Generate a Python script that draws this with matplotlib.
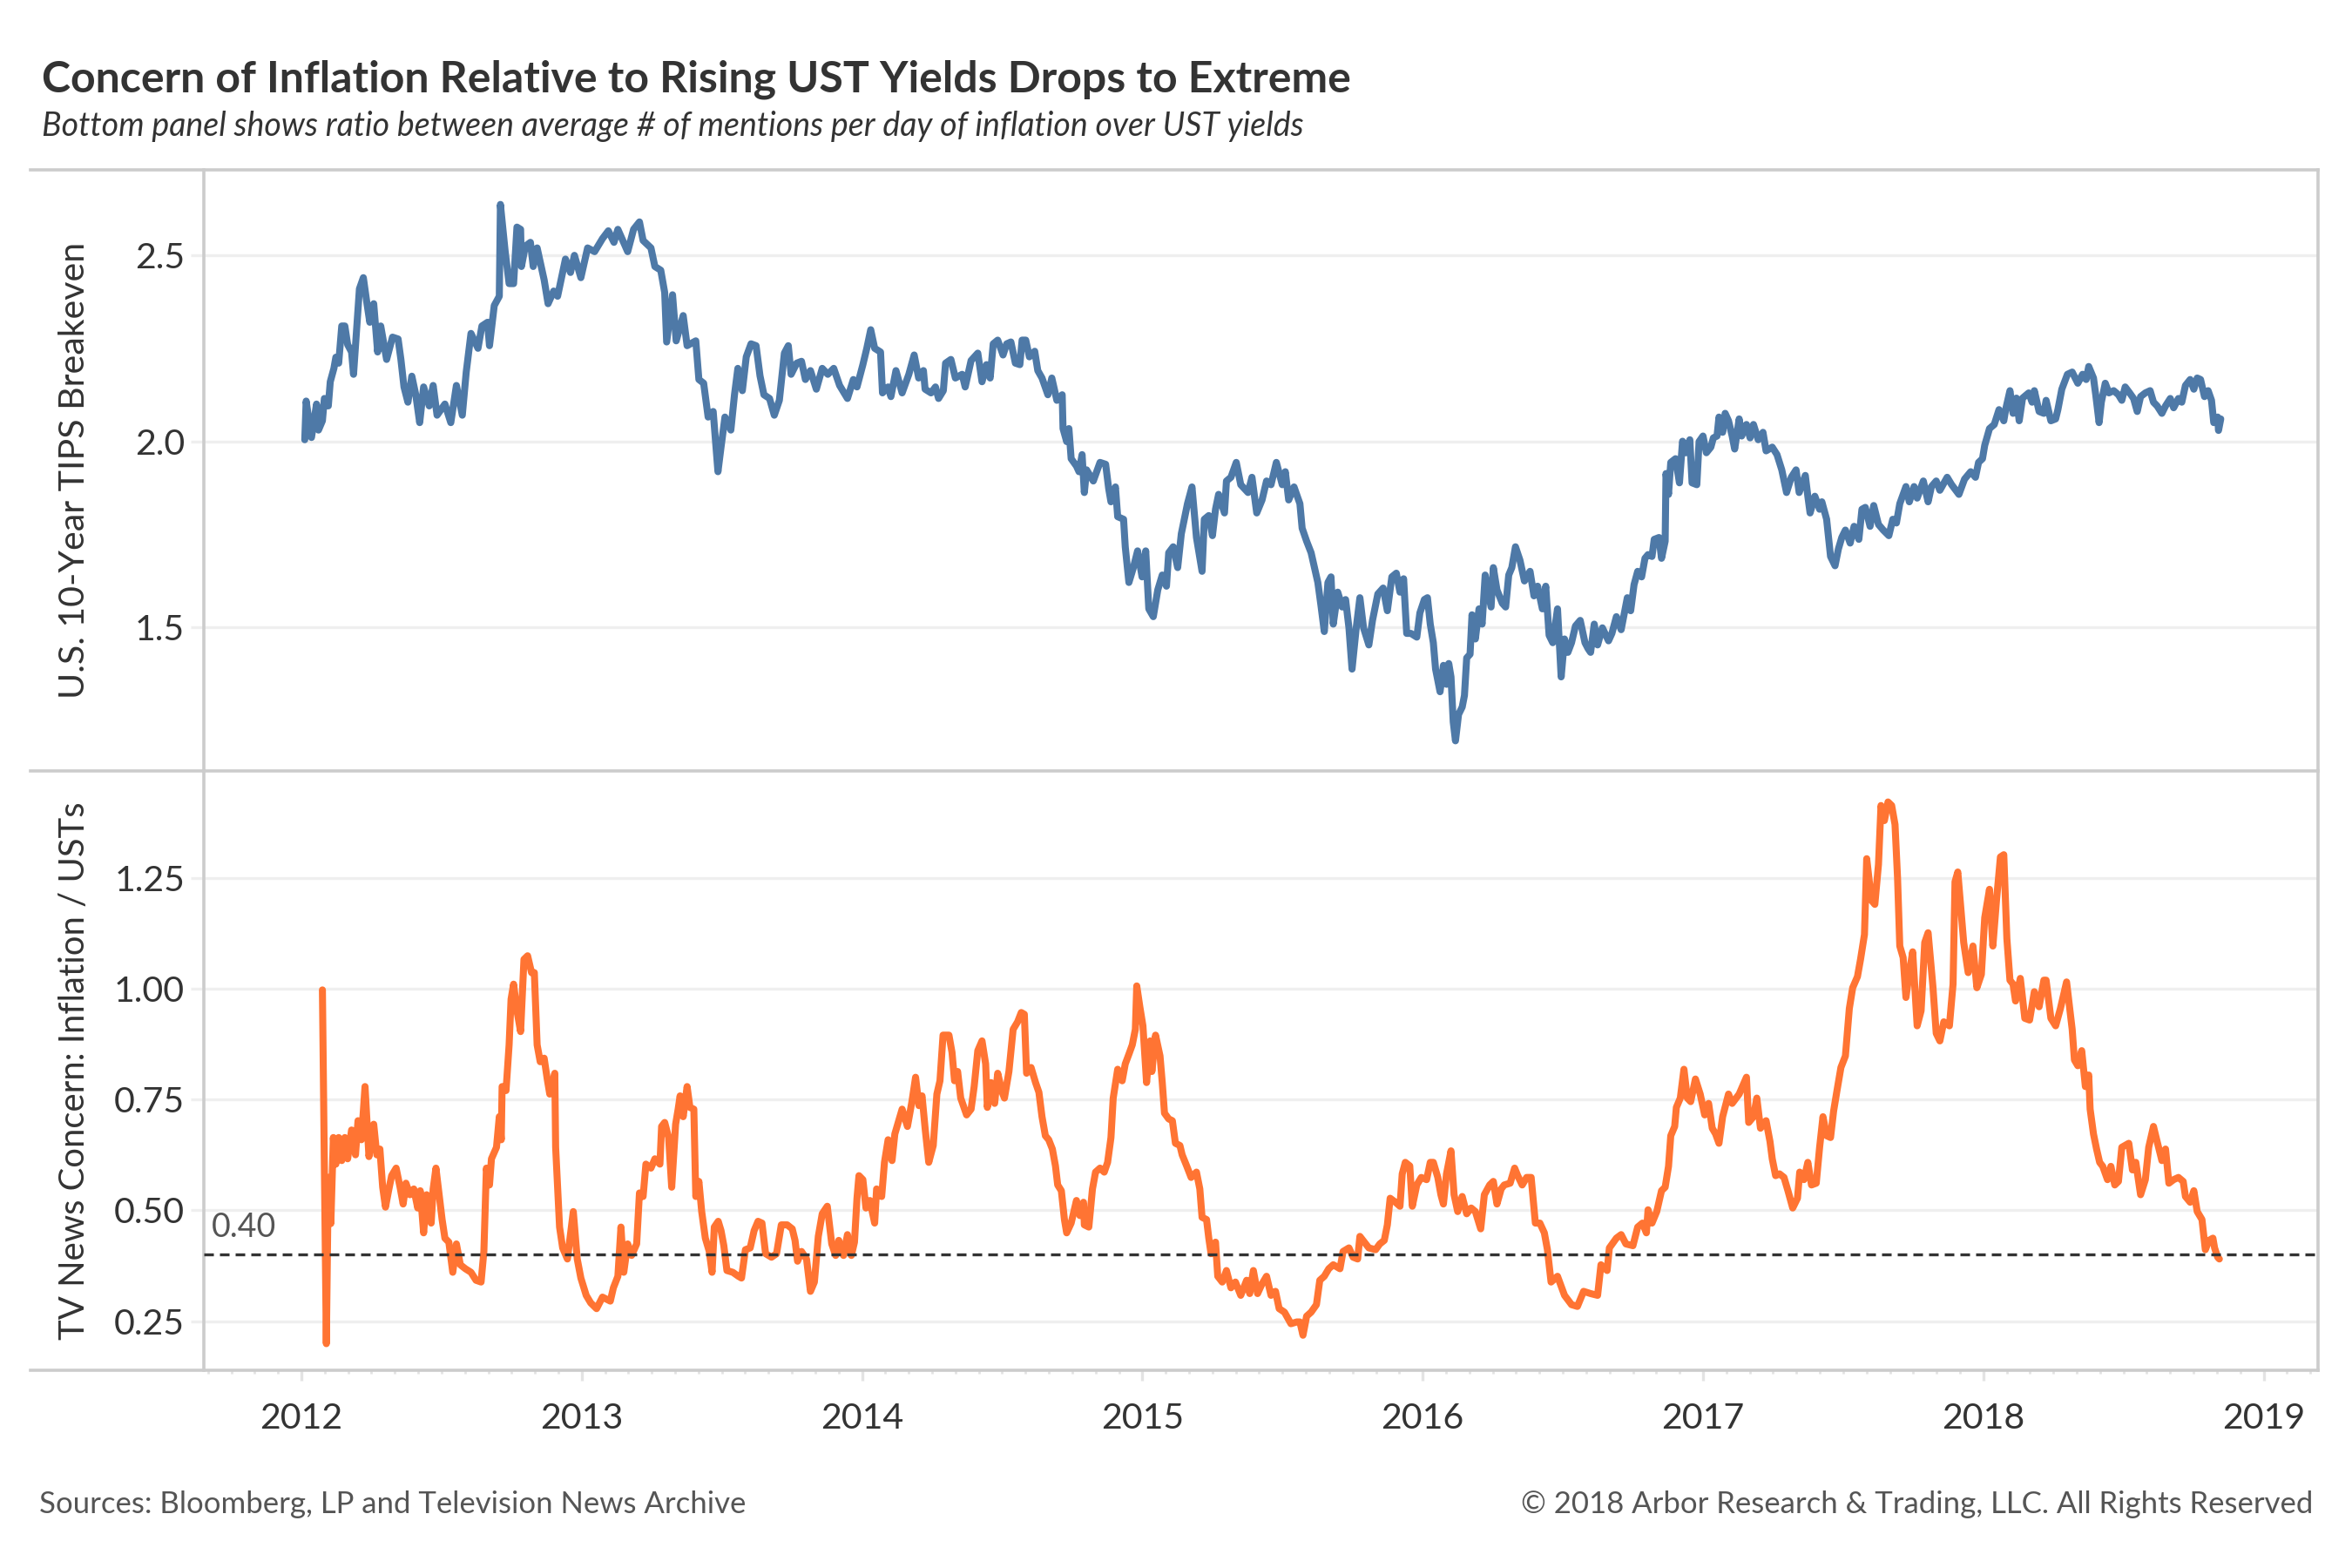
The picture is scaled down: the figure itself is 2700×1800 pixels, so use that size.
import matplotlib
matplotlib.use("Agg")
import matplotlib.pyplot as plt
from matplotlib.lines import Line2D
from matplotlib.ticker import MultipleLocator, FixedLocator

# ---- data (decimal years) ----
tips_year = [
    2012.012, 2012.017, 2012.036, 2012.054, 2012.061, 2012.075, 2012.082, 2012.096, 2012.103, 2012.116,
    2012.123, 2012.133, 2012.144, 2012.155, 2012.165, 2012.179, 2012.186, 2012.197, 2012.207, 2012.221,
    2012.234, 2012.244, 2012.258, 2012.272, 2012.283, 2012.304, 2012.325, 2012.345, 2012.355, 2012.366,
    2012.380, 2012.394, 2012.408, 2012.422, 2012.436, 2012.456, 2012.470, 2012.484, 2012.512, 2012.533,
    2012.553, 2012.574, 2012.588, 2012.605, 2012.630, 2012.644, 2012.664, 2012.671, 2012.688, 2012.706,
    2012.710, 2012.727, 2012.741, 2012.757, 2012.769, 2012.782, 2012.785, 2012.799, 2012.817, 2012.827,
    2012.841, 2012.866, 2012.880, 2012.900, 2012.914, 2012.928, 2012.942, 2012.960, 2012.974, 2012.997,
    2013.021, 2013.046, 2013.074, 2013.095, 2013.115, 2013.129, 2013.164, 2013.185, 2013.206, 2013.219,
    2013.247, 2013.261, 2013.282, 2013.296, 2013.303, 2013.324, 2013.337, 2013.362, 2013.376, 2013.407,
    2013.418, 2013.435, 2013.451, 2013.469, 2013.486, 2013.497, 2013.511, 2013.532, 2013.545, 2013.557,
    2013.573, 2013.587, 2013.604, 2013.622, 2013.636, 2013.650, 2013.670, 2013.687, 2013.705, 2013.723,
    2013.737, 2013.747, 2013.767, 2013.784, 2013.798, 2013.816, 2013.837, 2013.858, 2013.878, 2013.899,
    2013.920, 2013.948, 2013.969, 2013.982, 2014.003, 2014.017, 2014.031, 2014.045, 2014.066, 2014.073,
    2014.093, 2014.103, 2014.121, 2014.143, 2014.167, 2014.186, 2014.202, 2014.219, 2014.225, 2014.246,
    2014.262, 2014.273, 2014.290, 2014.298, 2014.317, 2014.333, 2014.357, 2014.368, 2014.389, 2014.413,
    2014.428, 2014.444, 2014.457, 2014.468, 2014.484, 2014.503, 2014.516, 2014.531, 2014.547, 2014.563,
    2014.571, 2014.584, 2014.597, 2014.616, 2014.627, 2014.642, 2014.663, 2014.677, 2014.695, 2014.714,
    2014.717, 2014.730, 2014.738, 2014.746, 2014.765, 2014.774, 2014.785, 2014.793, 2014.801, 2014.825,
    2014.849, 2014.869, 2014.880, 2014.888, 2014.904, 2014.912, 2014.933, 2014.939, 2014.952, 2014.968,
    2014.983, 2014.999, 2015.012, 2015.023, 2015.039, 2015.055, 2015.071, 2015.086, 2015.094, 2015.110,
    2015.126, 2015.139, 2015.161, 2015.177, 2015.193, 2015.213, 2015.221, 2015.237, 2015.250, 2015.261,
    2015.272, 2015.293, 2015.300, 2015.316, 2015.335, 2015.351, 2015.377, 2015.391, 2015.408, 2015.427,
    2015.443, 2015.459, 2015.478, 2015.499, 2015.510, 2015.522, 2015.541, 2015.562, 2015.570, 2015.586,
    2015.602, 2015.614, 2015.626, 2015.637, 2015.649, 2015.662, 2015.673, 2015.681, 2015.697, 2015.713,
    2015.725, 2015.737, 2015.748, 2015.763, 2015.776, 2015.789, 2015.808, 2015.821, 2015.840, 2015.859,
    2015.874, 2015.890, 2015.906, 2015.919, 2015.932, 2015.943, 2015.958, 2015.979, 2015.990, 2016.006,
    2016.017, 2016.027, 2016.038, 2016.046, 2016.062, 2016.074, 2016.085, 2016.093, 2016.101, 2016.109,
    2016.117, 2016.128, 2016.141, 2016.149, 2016.157, 2016.169, 2016.176, 2016.188, 2016.201, 2016.212,
    2016.223, 2016.244, 2016.252, 2016.265, 2016.284, 2016.296, 2016.307, 2016.318, 2016.331, 2016.347,
    2016.363, 2016.383, 2016.397, 2016.410, 2016.427, 2016.439, 2016.451, 2016.464, 2016.481, 2016.494,
    2016.506, 2016.518, 2016.531, 2016.545, 2016.562, 2016.579, 2016.590, 2016.599, 2016.612, 2016.624,
    2016.641, 2016.663, 2016.675, 2016.691, 2016.708, 2016.730, 2016.742, 2016.754, 2016.767, 2016.781,
    2016.793, 2016.804, 2016.818, 2016.826, 2016.843, 2016.852, 2016.865, 2016.868, 2016.877, 2016.885,
    2016.902, 2016.916, 2016.927, 2016.939, 2016.953, 2016.961, 2016.978, 2016.986, 2017.000, 2017.012,
    2017.028, 2017.037, 2017.050, 2017.057, 2017.070, 2017.079, 2017.091, 2017.104, 2017.113, 2017.129,
    2017.138, 2017.155, 2017.168, 2017.180, 2017.197, 2017.214, 2017.225, 2017.247, 2017.264, 2017.281,
    2017.298, 2017.315, 2017.332, 2017.343, 2017.365, 2017.374, 2017.382, 2017.399, 2017.416, 2017.424,
    2017.441, 2017.455, 2017.471, 2017.483, 2017.495, 2017.508, 2017.525, 2017.539, 2017.556, 2017.567,
    2017.579, 2017.596, 2017.609, 2017.626, 2017.643, 2017.663, 2017.677, 2017.690, 2017.702, 2017.724,
    2017.736, 2017.753, 2017.764, 2017.786, 2017.803, 2017.815, 2017.832, 2017.845, 2017.871, 2017.887,
    2017.913, 2017.933, 2017.955, 2017.972, 2017.983, 2017.997, 2018.005, 2018.022, 2018.039, 2018.056,
    2018.073, 2018.081, 2018.095, 2018.106, 2018.118, 2018.128, 2018.140, 2018.162, 2018.174, 2018.182,
    2018.199, 2018.216, 2018.224, 2018.241, 2018.258, 2018.266, 2018.280, 2018.300, 2018.317, 2018.337,
    2018.354, 2018.367, 2018.376, 2018.393, 2018.401, 2018.413, 2018.421, 2018.435, 2018.448, 2018.465,
    2018.482, 2018.494, 2018.506, 2018.522, 2018.536, 2018.549, 2018.561, 2018.578, 2018.595, 2018.607,
    2018.620, 2018.637, 2018.650, 2018.667, 2018.679, 2018.696, 2018.708, 2018.721, 2018.738, 2018.751,
    2018.763, 2018.775, 2018.789, 2018.802, 2018.814, 2018.822, 2018.836, 2018.839, 2018.847,
]
tips_value = [
    2.004, 2.108, 2.010, 2.100, 2.030, 2.055, 2.115, 2.095, 2.160, 2.196,
    2.226, 2.210, 2.310, 2.310, 2.260, 2.240, 2.180, 2.300, 2.410, 2.440,
    2.370, 2.320, 2.370, 2.240, 2.310, 2.220, 2.280, 2.275, 2.220, 2.146,
    2.105, 2.175, 2.125, 2.050, 2.146, 2.095, 2.150, 2.070, 2.100, 2.050,
    2.150, 2.070, 2.186, 2.290, 2.250, 2.310, 2.320, 2.257, 2.365, 2.390,
    2.637, 2.510, 2.424, 2.424, 2.576, 2.570, 2.470, 2.525, 2.535, 2.470,
    2.520, 2.434, 2.370, 2.404, 2.390, 2.440, 2.490, 2.454, 2.500, 2.440,
    2.520, 2.510, 2.545, 2.566, 2.535, 2.570, 2.510, 2.570, 2.590, 2.540,
    2.520, 2.470, 2.460, 2.400, 2.267, 2.394, 2.270, 2.338, 2.257, 2.270,
    2.166, 2.156, 2.065, 2.080, 1.918, 1.984, 2.065, 2.030, 2.125, 2.196,
    2.136, 2.227, 2.262, 2.257, 2.176, 2.125, 2.115, 2.070, 2.110, 2.237,
    2.257, 2.180, 2.210, 2.215, 2.166, 2.190, 2.140, 2.196, 2.180, 2.196,
    2.150, 2.115, 2.166, 2.146, 2.206, 2.250, 2.300, 2.250, 2.240, 2.130,
    2.146, 2.120, 2.190, 2.130, 2.180, 2.232, 2.170, 2.190, 2.140, 2.130,
    2.146, 2.115, 2.136, 2.210, 2.220, 2.170, 2.180, 2.146, 2.217, 2.237,
    2.160, 2.206, 2.170, 2.262, 2.272, 2.232, 2.262, 2.267, 2.210, 2.206,
    2.272, 2.272, 2.227, 2.242, 2.190, 2.170, 2.125, 2.170, 2.110, 2.125,
    2.034, 1.999, 2.034, 1.953, 1.933, 1.918, 1.964, 1.862, 1.923, 1.893,
    1.943, 1.938, 1.872, 1.837, 1.877, 1.797, 1.790, 1.716, 1.620, 1.660,
    1.705, 1.635, 1.705, 1.549, 1.528, 1.600, 1.640, 1.610, 1.700, 1.716,
    1.660, 1.751, 1.832, 1.877, 1.741, 1.650, 1.790, 1.800, 1.746, 1.817,
    1.857, 1.807, 1.893, 1.903, 1.943, 1.883, 1.862, 1.903, 1.807, 1.842,
    1.893, 1.883, 1.943, 1.883, 1.918, 1.842, 1.877, 1.832, 1.766, 1.731,
    1.700, 1.660, 1.620, 1.559, 1.488, 1.620, 1.635, 1.508, 1.594, 1.554,
    1.574, 1.498, 1.387, 1.498, 1.579, 1.498, 1.452, 1.518, 1.589, 1.605,
    1.544, 1.635, 1.645, 1.594, 1.630, 1.483, 1.483, 1.473, 1.538, 1.574,
    1.579, 1.508, 1.458, 1.387, 1.326, 1.397, 1.346, 1.402, 1.366, 1.245,
    1.194, 1.265, 1.285, 1.316, 1.417, 1.427, 1.533, 1.468, 1.549, 1.508,
    1.640, 1.554, 1.660, 1.600, 1.564, 1.554, 1.640, 1.660, 1.716, 1.680,
    1.624, 1.650, 1.584, 1.610, 1.549, 1.610, 1.478, 1.458, 1.549, 1.366,
    1.468, 1.432, 1.458, 1.503, 1.518, 1.458, 1.442, 1.432, 1.508, 1.452,
    1.498, 1.463, 1.483, 1.528, 1.493, 1.579, 1.544, 1.614, 1.650, 1.635,
    1.685, 1.695, 1.690, 1.736, 1.741, 1.685, 1.731, 1.913, 1.857, 1.943,
    1.953, 1.888, 2.000, 1.969, 2.004, 1.888, 1.883, 1.999, 2.014, 1.969,
    1.984, 2.009, 2.014, 2.065, 2.024, 2.075, 2.055, 2.014, 1.979, 2.060,
    2.014, 2.045, 2.009, 2.045, 2.004, 2.024, 1.974, 1.984, 1.964, 1.923,
    1.862, 1.903, 1.923, 1.862, 1.908, 1.852, 1.807, 1.852, 1.817, 1.837,
    1.790, 1.690, 1.665, 1.710, 1.741, 1.761, 1.726, 1.771, 1.736, 1.817,
    1.822, 1.771, 1.827, 1.776, 1.761, 1.746, 1.790, 1.780, 1.832, 1.878,
    1.837, 1.878, 1.847, 1.893, 1.837, 1.878, 1.893, 1.868, 1.903, 1.883,
    1.857, 1.898, 1.918, 1.903, 1.943, 1.953, 1.989, 2.034, 2.045, 2.085,
    2.055, 2.090, 2.136, 2.075, 2.116, 2.055, 2.116, 2.130, 2.105, 2.136,
    2.080, 2.075, 2.110, 2.055, 2.060, 2.085, 2.140, 2.180, 2.186, 2.156,
    2.180, 2.166, 2.201, 2.170, 2.125, 2.050, 2.105, 2.156, 2.130, 2.136,
    2.125, 2.110, 2.146, 2.130, 2.115, 2.080, 2.120, 2.130, 2.136, 2.105,
    2.095, 2.075, 2.095, 2.115, 2.090, 2.115, 2.105, 2.150, 2.166, 2.140,
    2.170, 2.166, 2.120, 2.136, 2.110, 2.050, 2.065, 2.029, 2.060,
]

ratio_year = [
    2012.075, 2012.089, 2012.096, 2012.105, 2012.114, 2012.123, 2012.133, 2012.144, 2012.155, 2012.165,
    2012.179, 2012.193, 2012.202, 2012.214, 2012.227, 2012.241, 2012.258, 2012.269, 2012.280, 2012.290,
    2012.300, 2012.311, 2012.322, 2012.338, 2012.352, 2012.363, 2012.373, 2012.387, 2012.401, 2012.415,
    2012.424, 2012.436, 2012.447, 2012.463, 2012.470, 2012.480, 2012.502, 2012.512, 2012.526, 2012.540,
    2012.553, 2012.567, 2012.585, 2012.605, 2012.623, 2012.641, 2012.651, 2012.660, 2012.671, 2012.678,
    2012.696, 2012.706, 2012.713, 2012.716, 2012.730, 2012.741, 2012.748, 2012.757, 2012.769, 2012.782,
    2012.794, 2012.807, 2012.821, 2012.831, 2012.841, 2012.852, 2012.866, 2012.877, 2012.886, 2012.904,
    2012.907, 2012.921, 2012.932, 2012.949, 2012.970, 2012.984, 2012.997, 2013.016, 2013.032, 2013.053,
    2013.074, 2013.102, 2013.113, 2013.129, 2013.140, 2013.150, 2013.164, 2013.178, 2013.196, 2013.206,
    2013.219, 2013.229, 2013.247, 2013.261, 2013.279, 2013.285, 2013.296, 2013.310, 2013.321, 2013.335,
    2013.344, 2013.351, 2013.362, 2013.376, 2013.386, 2013.400, 2013.407, 2013.418, 2013.428, 2013.441,
    2013.455, 2013.465, 2013.473, 2013.487, 2013.497, 2013.507, 2013.518, 2013.539, 2013.559, 2013.570,
    2013.584, 2013.601, 2013.615, 2013.629, 2013.643, 2013.656, 2013.677, 2013.695, 2013.712, 2013.733,
    2013.751, 2013.761, 2013.770, 2013.784, 2013.802, 2013.816, 2013.830, 2013.844, 2013.858, 2013.876,
    2013.892, 2013.906, 2013.917, 2013.934, 2013.948, 2013.962, 2013.973, 2013.982, 2013.989, 2014.003,
    2014.014, 2014.028, 2014.045, 2014.052, 2014.070, 2014.080, 2014.093, 2014.107, 2014.117, 2014.143,
    2014.162, 2014.178, 2014.191, 2014.203, 2014.214, 2014.225, 2014.238, 2014.254, 2014.267, 2014.278,
    2014.289, 2014.310, 2014.321, 2014.330, 2014.341, 2014.352, 2014.373, 2014.389, 2014.400, 2014.413,
    2014.428, 2014.441, 2014.447, 2014.460, 2014.473, 2014.484, 2014.500, 2014.508, 2014.524, 2014.539,
    2014.555, 2014.568, 2014.579, 2014.587, 2014.603, 2014.619, 2014.631, 2014.642, 2014.654, 2014.666,
    2014.679, 2014.690, 2014.698, 2014.711, 2014.722, 2014.730, 2014.746, 2014.765, 2014.777, 2014.790,
    2014.793, 2014.809, 2014.822, 2014.833, 2014.849, 2014.864, 2014.876, 2014.888, 2014.896, 2014.912,
    2014.928, 2014.939, 2014.952, 2014.964, 2014.975, 2014.980, 2014.991, 2015.002, 2015.015, 2015.028,
    2015.034, 2015.047, 2015.063, 2015.071, 2015.079, 2015.094, 2015.107, 2015.118, 2015.134, 2015.142,
    2015.158, 2015.174, 2015.193, 2015.205, 2015.213, 2015.229, 2015.237, 2015.245, 2015.261, 2015.269,
    2015.285, 2015.300, 2015.316, 2015.332, 2015.351, 2015.372, 2015.383, 2015.396, 2015.411, 2015.427,
    2015.443, 2015.459, 2015.475, 2015.488, 2015.507, 2015.530, 2015.551, 2015.562, 2015.573, 2015.586,
    2015.602, 2015.621, 2015.633, 2015.649, 2015.665, 2015.681, 2015.705, 2015.716, 2015.737, 2015.752,
    2015.768, 2015.776, 2015.792, 2015.808, 2015.832, 2015.847, 2015.863, 2015.874, 2015.884, 2015.903,
    2015.919, 2015.927, 2015.938, 2015.954, 2015.963, 2015.979, 2015.995, 2016.014, 2016.027, 2016.038,
    2016.054, 2016.065, 2016.074, 2016.085, 2016.101, 2016.112, 2016.125, 2016.141, 2016.157, 2016.173,
    2016.188, 2016.207, 2016.220, 2016.239, 2016.252, 2016.265, 2016.280, 2016.291, 2016.312, 2016.328,
    2016.339, 2016.355, 2016.371, 2016.387, 2016.402, 2016.418, 2016.434, 2016.445, 2016.458, 2016.481,
    2016.506, 2016.531, 2016.552, 2016.574, 2016.599, 2016.624, 2016.636, 2016.658, 2016.666, 2016.691,
    2016.708, 2016.725, 2016.750, 2016.767, 2016.784, 2016.798, 2016.804, 2016.818, 2016.835, 2016.852,
    2016.865, 2016.877, 2016.885, 2016.899, 2016.905, 2016.919, 2016.932, 2016.944, 2016.956, 2016.973,
    2016.990, 2017.006, 2017.020, 2017.033, 2017.045, 2017.057, 2017.070, 2017.091, 2017.104, 2017.129,
    2017.155, 2017.163, 2017.180, 2017.192, 2017.205, 2017.225, 2017.239, 2017.247, 2017.259, 2017.273,
    2017.289, 2017.303, 2017.320, 2017.337, 2017.345, 2017.360, 2017.374, 2017.387, 2017.404, 2017.416,
    2017.428, 2017.441, 2017.455, 2017.466, 2017.478, 2017.492, 2017.508, 2017.522, 2017.534, 2017.551,
    2017.562, 2017.576, 2017.584, 2017.601, 2017.613, 2017.626, 2017.635, 2017.647, 2017.660, 2017.673,
    2017.685, 2017.694, 2017.702, 2017.714, 2017.724, 2017.736, 2017.748, 2017.764, 2017.778, 2017.791,
    2017.803, 2017.820, 2017.832, 2017.845, 2017.859, 2017.879, 2017.892, 2017.899, 2017.909, 2017.930,
    2017.946, 2017.963, 2017.977, 2017.993, 2018.005, 2018.022, 2018.034, 2018.047, 2018.061, 2018.073,
    2018.084, 2018.095, 2018.106, 2018.115, 2018.132, 2018.148, 2018.165, 2018.182, 2018.199, 2018.216,
    2018.224, 2018.241, 2018.258, 2018.275, 2018.297, 2018.317, 2018.325, 2018.337, 2018.351, 2018.364,
    2018.376, 2018.381, 2018.393, 2018.404, 2018.415, 2018.426, 2018.443, 2018.455, 2018.469, 2018.482,
    2018.494, 2018.519, 2018.532, 2018.544, 2018.561, 2018.578, 2018.590, 2018.607, 2018.620, 2018.637,
    2018.650, 2018.662, 2018.679, 2018.696, 2018.713, 2018.721, 2018.738, 2018.751, 2018.763, 2018.780,
    2018.792, 2018.805, 2018.819, 2018.825, 2018.836, 2018.842,
]
ratio_value = [
    0.997, 0.199, 0.574, 0.470, 0.664, 0.604, 0.664, 0.612, 0.664, 0.616,
    0.681, 0.625, 0.702, 0.659, 0.779, 0.621, 0.694, 0.625, 0.638, 0.552,
    0.507, 0.544, 0.578, 0.595, 0.552, 0.514, 0.561, 0.535, 0.548, 0.505,
    0.544, 0.449, 0.535, 0.471, 0.548, 0.595, 0.479, 0.437, 0.428, 0.360,
    0.424, 0.377, 0.368, 0.360, 0.342, 0.338, 0.407, 0.595, 0.557, 0.616,
    0.642, 0.711, 0.659, 0.779, 0.770, 0.873, 0.976, 1.010, 0.950, 0.903,
    1.066, 1.074, 1.036, 1.036, 0.873, 0.835, 0.843, 0.796, 0.762, 0.809,
    0.642, 0.462, 0.415, 0.390, 0.497, 0.390, 0.347, 0.308, 0.291, 0.278,
    0.304, 0.295, 0.325, 0.351, 0.462, 0.360, 0.424, 0.398, 0.424, 0.539,
    0.531, 0.604, 0.595, 0.616, 0.604, 0.689, 0.698, 0.664, 0.552, 0.694,
    0.728, 0.758, 0.711, 0.779, 0.732, 0.728, 0.531, 0.565, 0.497, 0.437,
    0.407, 0.360, 0.462, 0.475, 0.454, 0.420, 0.364, 0.360, 0.351, 0.347,
    0.411, 0.415, 0.454, 0.475, 0.471, 0.402, 0.394, 0.402, 0.467, 0.467,
    0.458, 0.432, 0.385, 0.407, 0.390, 0.317, 0.338, 0.441, 0.492, 0.509,
    0.424, 0.398, 0.432, 0.398, 0.445, 0.398, 0.428, 0.527, 0.578, 0.569,
    0.505, 0.522, 0.471, 0.548, 0.531, 0.608, 0.659, 0.612, 0.672, 0.728,
    0.689, 0.745, 0.800, 0.736, 0.758, 0.685, 0.608, 0.646, 0.762, 0.792,
    0.895, 0.895, 0.856, 0.792, 0.813, 0.753, 0.715, 0.728, 0.779, 0.860,
    0.882, 0.830, 0.732, 0.788, 0.741, 0.809, 0.766, 0.753, 0.813, 0.908,
    0.925, 0.946, 0.942, 0.809, 0.822, 0.788, 0.766, 0.711, 0.668, 0.659,
    0.638, 0.600, 0.557, 0.544, 0.479, 0.449, 0.471, 0.522, 0.488, 0.518,
    0.467, 0.462, 0.548, 0.586, 0.595, 0.586, 0.608, 0.664, 0.753, 0.818,
    0.792, 0.830, 0.852, 0.873, 0.908, 1.006, 0.959, 0.916, 0.788, 0.882,
    0.813, 0.895, 0.848, 0.788, 0.719, 0.706, 0.702, 0.651, 0.646, 0.625,
    0.600, 0.574, 0.586, 0.548, 0.484, 0.479, 0.437, 0.402, 0.428, 0.351,
    0.338, 0.364, 0.325, 0.338, 0.308, 0.342, 0.312, 0.364, 0.312, 0.334,
    0.351, 0.308, 0.317, 0.278, 0.270, 0.244, 0.248, 0.248, 0.218, 0.261,
    0.270, 0.287, 0.342, 0.351, 0.368, 0.377, 0.368, 0.407, 0.415, 0.394,
    0.390, 0.441, 0.428, 0.415, 0.411, 0.424, 0.432, 0.467, 0.527, 0.518,
    0.509, 0.582, 0.608, 0.600, 0.509, 0.557, 0.574, 0.569, 0.608, 0.608,
    0.574, 0.535, 0.514, 0.582, 0.634, 0.535, 0.497, 0.531, 0.492, 0.505,
    0.497, 0.458, 0.535, 0.557, 0.565, 0.514, 0.548, 0.557, 0.561, 0.595,
    0.578, 0.557, 0.574, 0.574, 0.471, 0.471, 0.449, 0.411, 0.338, 0.351,
    0.308, 0.287, 0.283, 0.317, 0.312, 0.308, 0.377, 0.364, 0.415, 0.437,
    0.445, 0.424, 0.420, 0.462, 0.471, 0.449, 0.501, 0.471, 0.497, 0.544,
    0.552, 0.599, 0.668, 0.689, 0.732, 0.753, 0.818, 0.753, 0.745, 0.796,
    0.762, 0.715, 0.741, 0.685, 0.672, 0.651, 0.711, 0.762, 0.741, 0.762,
    0.800, 0.698, 0.711, 0.753, 0.685, 0.702, 0.655, 0.616, 0.578, 0.582,
    0.574, 0.544, 0.505, 0.527, 0.586, 0.569, 0.608, 0.557, 0.561, 0.642,
    0.711, 0.668, 0.664, 0.724, 0.770, 0.822, 0.848, 0.955, 1.002, 1.027,
    1.066, 1.122, 1.293, 1.199, 1.190, 1.280, 1.413, 1.379, 1.421, 1.413,
    1.370, 1.250, 1.096, 1.070, 0.980, 1.036, 1.083, 0.916, 0.950, 1.104,
    1.126, 1.006, 0.899, 0.882, 0.925, 0.916, 1.010, 1.241, 1.263, 1.104,
    1.036, 1.096, 1.002, 1.032, 1.160, 1.224, 1.096, 1.199, 1.297, 1.302,
    1.113, 1.019, 1.010, 0.972, 1.023, 0.933, 0.929, 0.993, 0.959, 1.019,
    1.019, 0.933, 0.916, 0.955, 1.015, 0.908, 0.839, 0.826, 0.860, 0.779,
    0.805, 0.728, 0.672, 0.638, 0.608, 0.599, 0.569, 0.599, 0.557, 0.565,
    0.642, 0.651, 0.591, 0.608, 0.535, 0.569, 0.642, 0.689, 0.655, 0.612,
    0.638, 0.561, 0.569, 0.574, 0.565, 0.531, 0.518, 0.544, 0.497, 0.479,
    0.411, 0.432, 0.437, 0.415, 0.394, 0.390,
]

tips_ticks = [1.5, 2.0, 2.5]
ratio_ticks = [0.25, 0.50, 0.75, 1.00, 1.25]
year_ticks = [2012, 2013, 2014, 2015, 2016, 2017, 2018, 2019]
threshold = 0.40

title = "Concern of Inflation Relative to Rising UST Yields Drops to Extreme"
subtitle = "Bottom panel shows ratio between average # of mentions per day of inflation over UST yields"
source = "Sources: Bloomberg, LP and Television News Archive"
rights = "\u00a9 2018 Arbor Research & Trading, LLC. All Rights Reserved"

BLUE = "#4e79a7"
ORANGE = "#ff7433"
FRAME = "#cccccc"
GRID = "#efefef"
TXT = "#333333"

plt.rcParams["font.family"] = ["Lato", "DejaVu Sans"]

W, H = 2700, 1800
fig = plt.figure(figsize=(13.5, 9), dpi=200)


def fx(px):
    return px / W


def fy(py):
    return 1 - py / H


left, right = 234, 2661
top, mid, bottom = 195, 885, 1573
ax1 = fig.add_axes([fx(left), fy(mid), fx(right - left), (mid - top) / H])
ax2 = fig.add_axes([fx(left), fy(bottom), fx(right - left), (bottom - mid) / H])

ax1.plot(tips_year, tips_value, color=BLUE, lw=2.9, solid_joinstyle="round", solid_capstyle="round")
ax2.plot(ratio_year, ratio_value, color=ORANGE, lw=2.9, solid_joinstyle="round", solid_capstyle="round")
ax2.axhline(threshold, color=TXT, lw=1.2, dashes=(3.3, 2.1), zorder=3)
ax2.text(2011.68, threshold + 0.025, "0.40", fontsize=13.5, color="#555555", ha="left", va="bottom")

ax1.set_ylim(1.113, 2.73)
ax2.set_ylim(0.139, 1.491)
ax1.set_yticks(tips_ticks)
ax1.set_yticklabels(["%.1f" % v for v in tips_ticks])
ax2.set_yticks(ratio_ticks)
ax2.set_yticklabels(["%.2f" % v for v in ratio_ticks])

for ax in (ax1, ax2):
    ax.set_xlim(2011.652, 2019.194)
    ax.grid(axis="y", color=GRID, lw=1.2)
    ax.set_axisbelow(True)
    for s in ("top", "bottom"):
        ax.spines[s].set_visible(False)
    for s in ("left", "right"):
        ax.spines[s].set_color(FRAME)
        ax.spines[s].set_linewidth(1.3)
    ax.tick_params(axis="y", length=5.4, width=1.2, color=GRID, pad=2.5,
                   labelsize=14.8, labelcolor=TXT)

ax1.set_xticks([])
ax2.xaxis.set_major_locator(FixedLocator(year_ticks))
ax2.xaxis.set_minor_locator(MultipleLocator(1 / 12))
ax2.set_xticklabels([str(y) for y in year_ticks])
ax2.tick_params(axis="x", which="major", length=4.3, width=1.2, color="#e3e3e3",
                pad=9, labelsize=14.8, labelcolor=TXT)
ax2.tick_params(axis="x", which="minor", length=1.6, width=1.0, color="#e3e3e3")

# frame lines that run past the y axis
for yy in (top, mid, bottom):
    fig.add_artist(Line2D([fx(35), fx(right)], [fy(yy), fy(yy)], color=FRAME, lw=1.3))

fig.text(fx(86), fy((top + mid) / 2), "U.S. 10-Year TIPS Breakeven", rotation=90,
         ha="center", va="center", fontsize=14.8, color=TXT)
fig.text(fx(86), fy((mid + bottom) / 2), "TV News Concern: Inflation / USTs", rotation=90,
         ha="center", va="center", fontsize=14.4, color=TXT)

fig.text(fx(48), fy(105), title, fontsize=18.0, fontweight="bold", color=TXT, va="baseline")
fig.text(fx(48), fy(156), subtitle, fontsize=13.5, style="italic", color=TXT, va="baseline")
fig.text(fx(45), fy(1737), source, fontsize=12.5, color="#555555", va="baseline")
fig.text(fx(2655), fy(1737), rights, fontsize=12.5, color="#555555", va="baseline", ha="right")

fig.savefig("out.png", dpi=200, facecolor="white")
